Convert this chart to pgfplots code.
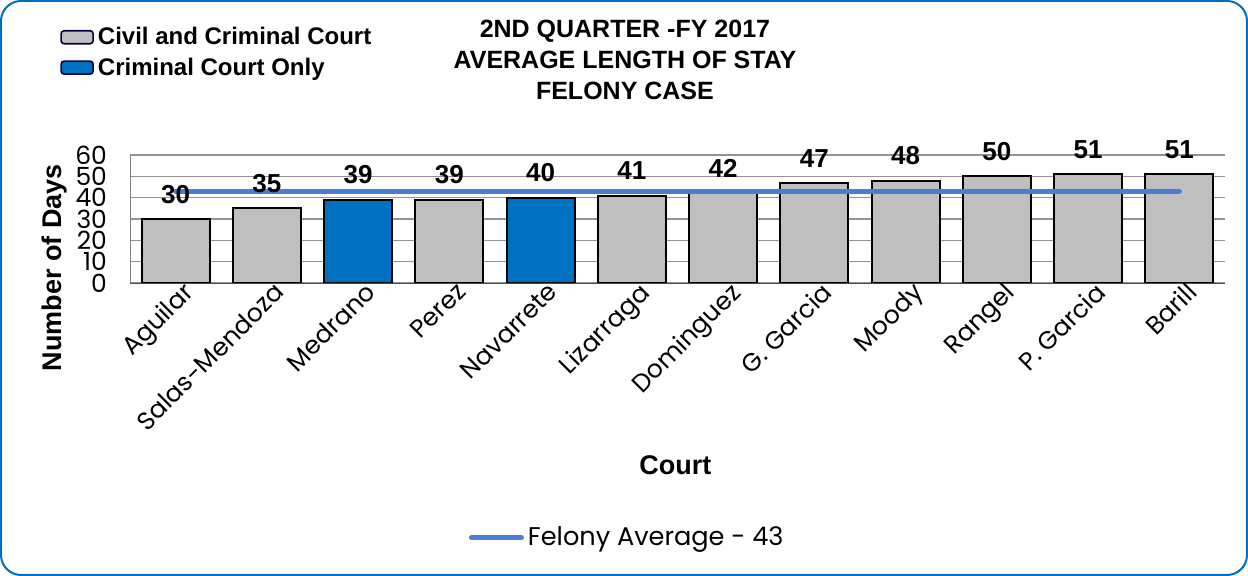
\documentclass[border=0pt]{standalone}
\usepackage{pgfplots}
\pgfplotsset{compat=1.18}
\usepackage{fontspec}
\setmainfont{Liberation Sans}
\newfontfamily\gothic{Poppins}
\definecolor{barblue}{RGB}{0,112,192}
\definecolor{bargray}{RGB}{191,191,191}
\definecolor{avgblue}{RGB}{74,126,211}
\definecolor{frameblue}{RGB}{0,112,192}
\begin{document}
\begin{tikzpicture}
\draw[frameblue, line width=1pt, rounded corners=10pt] (-64.5pt,-146pt) rectangle (558.5pt,141pt);
\begin{axis}[
  at={(0pt,0pt)}, anchor=south west,
  scale only axis, width=547.5pt, height=64pt,
  xmin=-0.5, xmax=11.5, ymin=0, ymax=60,
  ytick={0,10,...,60},
  xtick={0,...,11},
  xticklabels={Aguilar,Salas-Mendoza,Medrano,Perez,Navarrete,Lizarraga,Dominguez,G. Garcia,Moody,Rangel,P. Garcia,Barill},
  xticklabel style={rotate=45, anchor=north east, font=\gothic\fontsize{12.5}{12.5}\selectfont, inner sep=1pt, xshift=4pt},
  yticklabel style={font=\gothic\fontsize{12.5}{12.5}\selectfont, xshift=-8pt},
  /pgf/number format/assume math mode=true,
  major tick length=0pt,
  ymajorgrids, grid style={gray!85, line width=0.6pt},
  axis x line*=bottom, axis y line*=left,
  axis line style={gray, -},
  x axis line style={black!70},
  ybar, bar width=34pt, bar shift=0pt,
  ylabel={Number of Days},
  ylabel style={at={(axis description cs:-0.0685,0.12)}, anchor=center, font=\bfseries\fontsize{13.5}{14}\selectfont},
  xlabel={Court},
  xlabel style={at={(axis description cs:0.498,-1.42)}, anchor=center, font=\bfseries\fontsize{13.5}{14}\selectfont},
  title={2ND QUARTER -FY 2017\\AVERAGE LENGTH OF STAY\\FELONY CASE},
  title style={at={(axis description cs:0.452,1.648)}, anchor=center, align=center, font=\bfseries\fontsize{12.5}{15.5}\selectfont},
  legend style={at={(axis description cs:-0.064,2.03)}, anchor=north west, draw=none, fill=none,
    font=\bfseries\fontsize{12}{13}\selectfont, row sep=1pt, inner sep=0pt},
  legend cell align=left,
  legend image code/.code={\draw[#1, draw=black!70!blue, rounded corners=1.5pt, line width=0.8pt] (0pt,-3pt) rectangle (16pt,3.5pt);},
  nodes near coords style={font=\bfseries\fontsize{13}{13}\selectfont, yshift=4pt},
]
\addplot[fill=bargray, draw=black, line width=1pt, nodes near coords] coordinates {
  (0,30) (1,35) (3,39) (5,41) (6,42) (7,47) (8,48) (9,50) (10,51) (11,51)};
\addlegendentry{Civil and Criminal Court}
\addplot[fill=barblue, draw=black, line width=1pt, nodes near coords] coordinates {
  (2,39) (4,40)};
\addlegendentry{Criminal Court Only}
\addplot[sharp plot, avgblue, line width=2.5pt, forget plot, line cap=round] coordinates {(0,43) (11,43)};
\end{axis}
\begin{axis}[
  at={(0pt,0pt)}, anchor=south west,
  scale only axis, width=547.5pt, height=64pt,
  xmin=-0.5, xmax=11.5, ymin=0, ymax=60,
  hide axis,
  legend style={at={(axis description cs:0.455,-1.99)}, anchor=center, draw=none, fill=none,
    font=\gothic\fontsize{12.8}{13}\selectfont, inner sep=0pt},
  legend image code/.code={\draw[#1, line cap=round] (0pt,0pt) -- (25pt,0pt);},
]
\addlegendimage{avgblue, line width=2.5pt}
\addlegendentry{Felony Average - 43}
\end{axis}
\end{tikzpicture}
\end{document}
